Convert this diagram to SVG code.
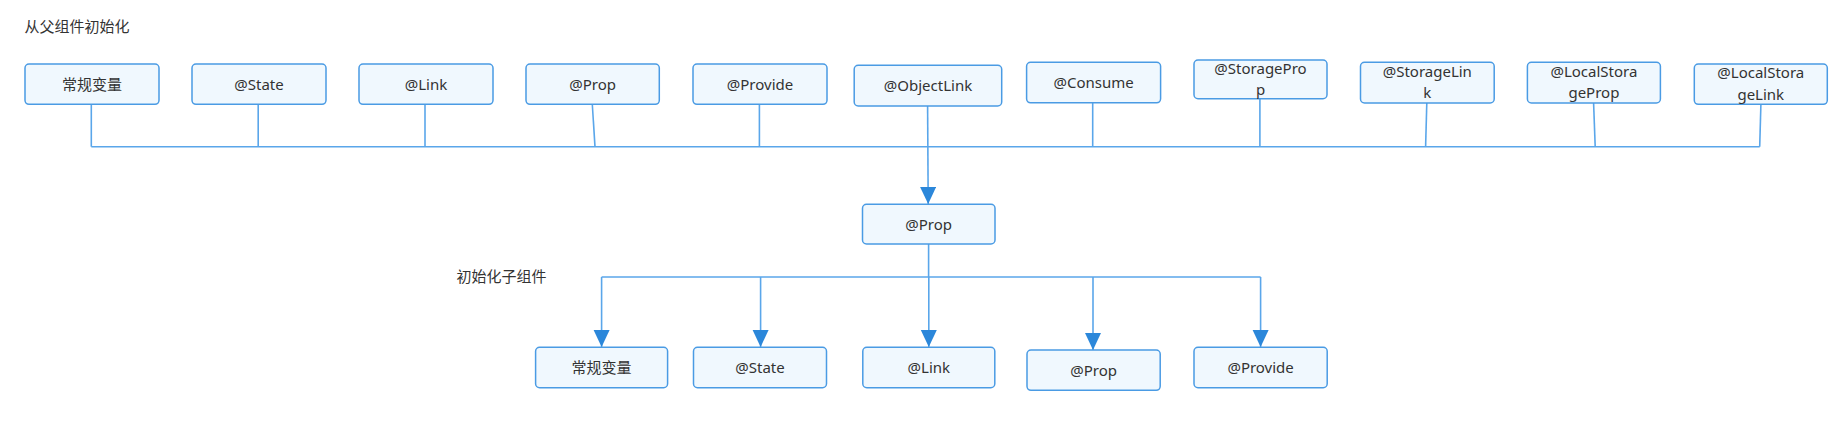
<svg xmlns="http://www.w3.org/2000/svg" width="1846" height="428" viewBox="0 0 1846 428">
<defs>
<style>
.box{fill:#f0f8fe;stroke:#4a9be4;stroke-width:1.5}
.t{font-family:"Noto Sans","Noto Sans CJK SC",sans-serif;font-size:15px;fill:#333;text-anchor:middle}
.lbl{font-family:"Noto Sans","Noto Sans CJK SC",sans-serif;font-size:15px;fill:#333}
.ln{fill:none;stroke:#5aa6ea;stroke-width:1.6}
</style>
<marker id="arr" markerUnits="userSpaceOnUse" markerWidth="18" markerHeight="17" refX="17" refY="8" orient="auto" viewBox="0 0 18 17">
<path d="M0,0 L17,8 L0,16 z" fill="#2b87da"/>
</marker>
</defs>
<rect width="1846" height="428" fill="#fff"/>
<text class="lbl" x="24.5" y="32">从父组件初始化</text>
<text class="lbl" x="456.5" y="282">初始化子组件</text>

<g id="connectors">
<path class="ln" d="M91.3,104.3 V146.7"/>
<path class="ln" d="M258.2,104.3 V146.7"/>
<path class="ln" d="M425,104.3 V146.7"/>
<path class="ln" d="M592.3,104.3 L595,146.7"/>
<path class="ln" d="M759.4,104.3 V146.7"/>
<path class="ln" d="M1092.7,102.8 V146.7"/>
<path class="ln" d="M1259.9,98.7 V146.7"/>
<path class="ln" d="M1426.8,103 L1425.6,146.7"/>
<path class="ln" d="M1593.6,103 L1595.2,146.7"/>
<path class="ln" d="M1760.9,104.3 L1759.7,146.7"/>
<path class="ln" d="M91.3,146.7 H1759.7"/>
<path class="ln" d="M927.6,106 L928.2,204" marker-end="url(#arr)"/>
<path class="ln" d="M928.6,244 V277"/>
<path class="ln" d="M601.6,277 H1260.6"/>
<path class="ln" d="M601.6,277 V347" marker-end="url(#arr)"/>
<path class="ln" d="M760.6,277 V347" marker-end="url(#arr)"/>
<path class="ln" d="M928.8,277 V347" marker-end="url(#arr)"/>
<path class="ln" d="M1093,277 V350" marker-end="url(#arr)"/>
<path class="ln" d="M1260.6,277 V347" marker-end="url(#arr)"/>
</g>

<g id="p1"><rect class="box" x="25" y="64" width="134" height="40.3" rx="4"/><text class="t" x="92" y="89.5">常规变量</text></g>
<g id="p2"><rect class="box" x="192" y="64" width="134" height="40.3" rx="4"/><text class="t" x="259" y="89.5">@State</text></g>
<g id="p3"><rect class="box" x="359" y="64" width="134" height="40.3" rx="4"/><text class="t" x="426" y="89.5">@Link</text></g>
<g id="p4"><rect class="box" x="526" y="64" width="133.3" height="40.3" rx="4"/><text class="t" x="592.6" y="89.5">@Prop</text></g>
<g id="p5"><rect class="box" x="693" y="64" width="134" height="40.3" rx="4"/><text class="t" x="760" y="89.5">@Provide</text></g>
<g id="p6"><rect class="box" x="854.2" y="65.3" width="147.5" height="40.7" rx="4"/><text class="t" x="928" y="91">@ObjectLink</text></g>
<g id="p7"><rect class="box" x="1026.6" y="62.3" width="134" height="40.5" rx="4"/><text class="t" x="1093.6" y="88">@Consume</text></g>
<g id="p8"><rect class="box" x="1194" y="60" width="133" height="38.7" rx="4"/><text class="t" x="1260.5" y="73.5">@StoragePro</text><text class="t" x="1260.5" y="95">p</text></g>
<g id="p9"><rect class="box" x="1360.5" y="62.3" width="133.7" height="40.7" rx="4"/><text class="t" x="1427.3" y="76.5">@StorageLin</text><text class="t" x="1427.3" y="98">k</text></g>
<g id="p10"><rect class="box" x="1527.4" y="62.3" width="133" height="40.7" rx="4"/><text class="t" x="1593.9" y="76.5">@LocalStora</text><text class="t" x="1593.9" y="98">geProp</text></g>
<g id="p11"><rect class="box" x="1694.3" y="64" width="133" height="40.3" rx="4"/><text class="t" x="1760.8" y="77.5">@LocalStora</text><text class="t" x="1760.8" y="99.5">geLink</text></g>

<g id="mid"><rect class="box" x="862.5" y="204.3" width="132.5" height="39.7" rx="4"/><text class="t" x="928.7" y="229.5">@Prop</text></g>

<g id="c1"><rect class="box" x="535.6" y="347.3" width="132" height="40.4" rx="4"/><text class="t" x="601.6" y="372.5">常规变量</text></g>
<g id="c2"><rect class="box" x="693.5" y="347.3" width="133" height="40.4" rx="4"/><text class="t" x="760" y="372.5">@State</text></g>
<g id="c3"><rect class="box" x="862.8" y="347.3" width="132" height="40.4" rx="4"/><text class="t" x="928.8" y="372.5">@Link</text></g>
<g id="c4"><rect class="box" x="1027" y="350" width="133.2" height="40.3" rx="4"/><text class="t" x="1093.6" y="375.5">@Prop</text></g>
<g id="c5"><rect class="box" x="1194" y="347.3" width="133.2" height="40.4" rx="4"/><text class="t" x="1260.6" y="372.5">@Provide</text></g>
</svg>
